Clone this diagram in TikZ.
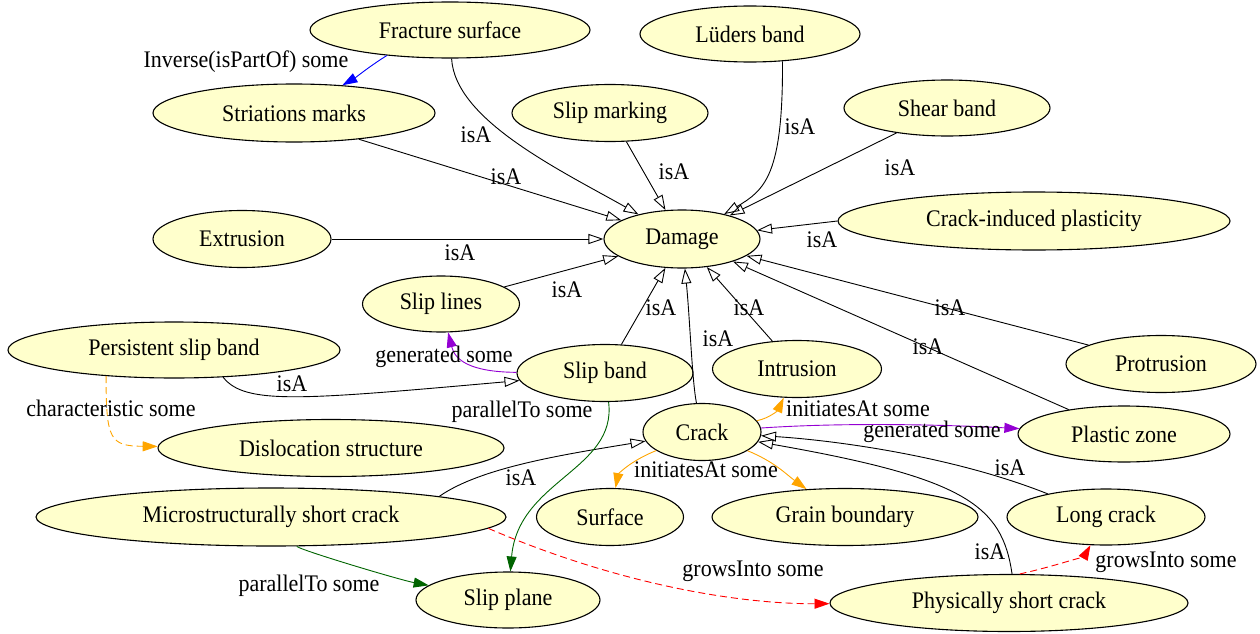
\documentclass[tikz,border=0pt]{standalone}
\usepackage{fontspec}
\setmainfont{Liberation Serif}
\usetikzlibrary{shapes.geometric,arrows.meta}
\definecolor{nodefill}{HTML}{FFFFCC}
\definecolor{dviolet}{HTML}{9400D3}
\definecolor{dgreen}{HTML}{006400}
\definecolor{orng}{HTML}{FFA500}
\tikzset{
  cls/.style={ellipse,draw=black,line width=1.1pt,fill=nodefill,inner sep=0pt,font=\fontsize{22}{24}\selectfont},
  lbl/.style={inner sep=0pt,font=\fontsize{22}{24}\selectfont},
  isa/.style={draw=black,line width=0.9pt,-{Triangle[open,length=15pt,width=10pt]}},
  rel/.style={line width=0.9pt,-{Triangle[length=15pt,width=10pt]}},
  dsh/.style={dash pattern=on 7pt off 4pt},
}
\newcommand{\tstr}[1]{\scalebox{1}[1.08]{#1}}
\newcommand{\cls}[6]{\node[cls,minimum width=#4pt,minimum height=#5pt] (#1) at (#2,#3) {\tstr{#6}};}
\begin{document}
\begin{tikzpicture}[x=1pt,y=-1pt]
\useasboundingbox (0,0) rectangle (1260,634);
\cls{fracture}{450}{30}{280}{56}{Fracture surface}
\cls{luders}{750}{34}{220}{56}{Lüders band}
\cls{striations}{294}{113}{282}{58}{Striations marks}
\cls{slipmarking}{610}{113}{196}{57}{Slip marking}
\cls{shear}{947}{108}{206}{56}{Shear band}
\cls{damage}{682}{239}{156}{58}{Damage}
\cls{extrusion}{242}{239}{178}{57}{Extrusion}
\cls{cip}{1034}{221}{392}{58}{Crack-induced plasticity}
\cls{sliplines}{441}{304}{157}{56}{Slip lines}
\cls{psb}{174}{350}{332}{56}{Persistent slip band}
\cls{slipband}{605}{373}{176}{57}{Slip band}
\cls{intrusion}{797}{369}{169}{57}{Intrusion}
\cls{protrusion}{1161}{364}{190}{57}{Protrusion}
\cls{crack}{702}{432}{118}{57}{Crack}
\cls{plastic}{1124}{434}{212}{56}{Plastic zone}
\cls{disloc}{331}{448}{346}{57}{Dislocation structure}
\cls{msc}{271}{517}{470}{58}{Microstructurally short crack}
\cls{surface}{610}{517}{147}{57}{Surface}
\cls{grain}{845}{517}{266}{57}{Grain boundary}
\cls{longcrack}{1106}{517}{198}{56}{Long crack}
\cls{slipplane}{508}{600}{184}{56}{Slip plane}
\cls{psc}{1009}{603}{358}{57}{Physically short crack}

% isA edges
\draw[isa] (fracture) .. controls (455,120) and (560,170) .. (damage) node[lbl] at (476,135) {\tstr{isA}};
\draw[isa] (striations.-22) -- (damage) node[lbl] at (506,177) {\tstr{isA}};
\draw[isa] (slipmarking) -- (damage) node[lbl] at (674,172) {\tstr{isA}};
\draw[isa] (luders.-40) .. controls (783,175) and (765,190) .. (damage) node[lbl] at (800,127) {\tstr{isA}};
\draw[isa] (shear) -- (damage) node[lbl] at (900,168) {\tstr{isA}};
\draw[isa] (cip.180) -- (damage) node[lbl] at (822,240) {\tstr{isA}};
\draw[isa] (extrusion) -- (damage) node[lbl] at (460,253) {\tstr{isA}};
\draw[isa] (sliplines) -- (damage) node[lbl] at (567,290) {\tstr{isA}};
\draw[isa] (slipband) -- (damage) node[lbl] at (661,308) {\tstr{isA}};
\draw[isa] (crack) .. controls (692,380) and (690,320) .. (damage) node[lbl] at (718,339) {\tstr{isA}};
\draw[isa] (intrusion) -- (damage) node[lbl] at (749,308) {\tstr{isA}};
\draw[isa] (protrusion) -- (damage) node[lbl] at (950,308) {\tstr{isA}};
\draw[isa] (plastic) -- (damage) node[lbl] at (928,347) {\tstr{isA}};
\draw[isa] (psb.-29) .. controls (245,405) and (300,400) .. (slipband) node[lbl] at (292,384) {\tstr{isA}};
\draw[isa] (msc.7) .. controls (480,468) and (560,455) .. (crack) node[lbl] at (521,478) {\tstr{isA}};
\draw[isa] (longcrack) .. controls (950,455) and (830,440) .. (crack) node[lbl] at (1010,468) {\tstr{isA}};
\draw[isa] (psc.84) .. controls (1002,505) and (965,478) .. (crack) node[lbl] at (990,552) {\tstr{isA}};

% other relations
\draw[rel,blue] (fracture.-158) .. controls (370,66) and (355,78) .. (striations) node[lbl,black] at (246,62) {\tstr{Inverse(isPartOf) some}};
\draw[rel,dviolet] (slipband) .. controls (470,372) and (455,360) .. (sliplines) node[lbl,black] at (444,357) {\tstr{generated some}};
\draw[rel,orng,dsh] (psb.-159) .. controls (106,440) and (110,446) .. (disloc) node[lbl,black] at (111,408) {\tstr{characteristic some}};
\draw[rel,dgreen] (slipband) .. controls (617,470) and (518,480) .. (slipplane) node[lbl,black] at (522,412) {\tstr{parallelTo some}};
\draw[rel,orng] (crack) .. controls (770,418) and (778,410) .. (intrusion) node[lbl,black] at (858,409) {\tstr{initiatesAt some}};
\draw[rel,dviolet] (crack) .. controls (850,422) and (950,425) .. (plastic) node[lbl,black] at (932,432) {\tstr{generated some}};
\draw[rel,orng] (crack) .. controls (628,462) and (618,475) .. (surface) node[lbl,black] at (706,470) {\tstr{initiatesAt some}};
\draw[rel,orng] (crack) .. controls (775,462) and (787,475) .. (grain);
\draw[rel,dgreen] (msc) .. controls (300,550) and (400,580) .. (slipplane) node[lbl,black] at (309,586) {\tstr{parallelTo some}};
\draw[rel,red,dsh] (msc.-3) .. controls (620,585) and (740,604) .. (psc) node[lbl,black] at (753,571) {\tstr{growsInto some}};
\draw[rel,red,dsh] (psc.70) .. controls (1060,565) and (1085,555) .. (longcrack) node[lbl,black] at (1166,562) {\tstr{growsInto some}};
\end{tikzpicture}
\end{document}
